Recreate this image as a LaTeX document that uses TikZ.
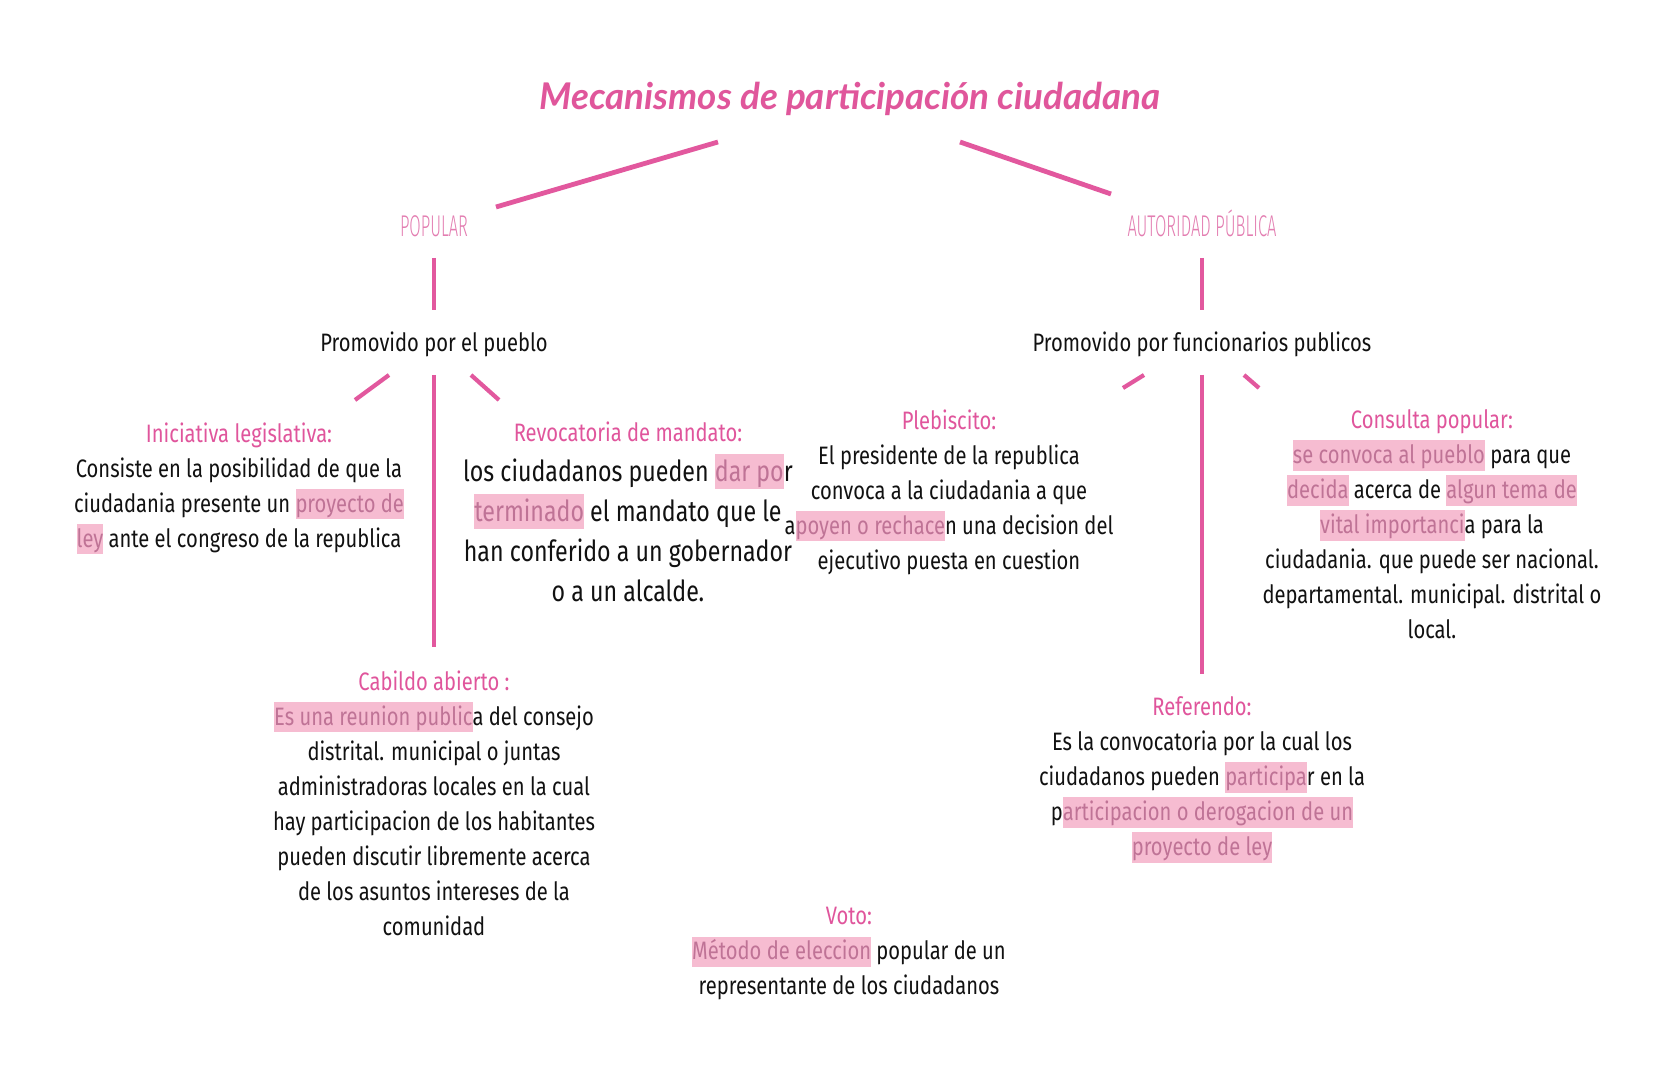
\documentclass[tikz,border=0pt]{standalone}
\usepackage{fontspec}
\setmainfont{Fira Sans}[FakeStretch=0.8]
\newfontfamily\titlefont{Lato}
\newfontfamily\capsfont{Fira Sans Light}[FakeStretch=0.55]
\definecolor{linkpink}{HTML}{E2589E}
\definecolor{titlepink}{HTML}{E0569B}
\definecolor{headpink}{HTML}{E0559C}
\definecolor{capspink}{HTML}{E37DB1}
\definecolor{hlpink}{HTML}{F6BCD1}
\definecolor{hltext}{HTML}{BF7396}
\definecolor{bodyblack}{HTML}{111111}
\newsavebox\hlbox
\newcommand\hl[1]{\sbox\hlbox{#1}\rlap{\smash{\textcolor{hlpink}{\rule[-0.55ex]{\wd\hlbox}{2.3ex}}}}\textcolor{hltext}{#1}}
\newcommand\hd[1]{\textcolor{headpink}{#1}}
\begin{document}
\begin{tikzpicture}[x=0.5pt,y=-0.5pt,
  link/.style={draw=linkpink,line width=2.4pt},
  thinlink/.style={draw=linkpink,line width=2.1pt},
  blk/.style={anchor=north,align=center,inner sep=0pt,text=bodyblack,font=\fontsize{12.6}{17.5}\selectfont},
  caps/.style={anchor=base,text=capspink,inner sep=0pt,font=\capsfont\fontsize{15}{17}\selectfont},
  mid/.style={text=bodyblack,inner sep=0pt,font=\fontsize{12.6}{14}\selectfont}]
\useasboundingbox[fill=white] (0,0) rectangle (1672,1080);

% title
\node[text=titlepink,inner sep=0pt,font=\titlefont\bfseries\itshape\fontsize{18.4}{22}\selectfont] (title) at (850,99) {Mecanismos de participación ciudadana};

% level 1
\node[caps] (pop) at (434,237) {POPULAR};
\node[caps] (aut) at (1202,237) {AUTORIDAD PÚBLICA};
\coordinate (tl1) at (718,142); \coordinate (tl2) at (496,207);
\coordinate (tr1) at (960,142); \coordinate (tr2) at (1111,194);
\draw[link] (tl1) -- (tl2);
\draw[link] (tr1) -- (tr2);

% level 2
\node[mid] (ppu) at (434,344) {Promovido por el pueblo};
\node[mid] (pfu) at (1202,344) {Promovido por funcionarios publicos};
\coordinate (pv1) at (434,258); \coordinate (pv2) at (434,310);
\coordinate (av1) at (1202,258); \coordinate (av2) at (1202,310);
\draw[thinlink] (pv1) -- (pv2);
\draw[thinlink] (av1) -- (av2);

% branches left
\coordinate (la1) at (389,375); \coordinate (la2) at (355,400);
\coordinate (lb1) at (434,375); \coordinate (lb2) at (434,647);
\coordinate (lc1) at (471,375); \coordinate (lc2) at (499,400);
\draw[thinlink] (la1) -- (la2);
\draw[thinlink] (lb1) -- (lb2);
\draw[thinlink] (lc1) -- (lc2);
% branches right
\coordinate (ra1) at (1144,375); \coordinate (ra2) at (1123,388);
\coordinate (rb1) at (1202,375); \coordinate (rb2) at (1202,674);
\coordinate (rc1) at (1244,375); \coordinate (rc2) at (1259,388);
\draw[thinlink] (ra1) -- (ra2);
\draw[thinlink] (rb1) -- (rb2);
\draw[thinlink] (rc1) -- (rc2);

% blocks
\node[blk] (ini) at (239,422) {\hd{Iniciativa legislativa:}\\
Consiste en la posibilidad de que la\\
ciudadania presente un \hl{proyecto de}\\
\hl{ley} ante el congreso de la republica};

\node[blk,font=\fontsize{14.5}{20}\selectfont] (rev) at (628,421) {\hd{\fontsize{12.6}{20}\selectfont Revocatoria de mandato:}\\
los ciudadanos pueden \hl{dar po}r\\
\hl{terminado} el mandato que le\\
han conferido a un gobernador\\
o a un alcalde.};

\node[blk] (ple) at (949,409) {\hd{Plebiscito:}\\
El presidente de la republica\\
convoca a la ciudadania a que\\
a\hl{poyen o rechace}n una decision del\\
ejecutivo puesta en cuestion};

\node[blk] (con) at (1432,409) {\hd{Consulta popular:}\\
\hl{se convoca al pueblo} para que\\
\hl{decida} acerca de \hl{algun tema de}\\
\hl{vital importanci}a para la\\
ciudadania. que puede ser nacional.\\
departamental. municipal. distrital o\\
local.};

\node[blk] (cab) at (434,670) {\hd{Cabildo abierto :}\\
\hl{Es una reunion public}a del consejo\\
distrital. municipal o juntas\\
administradoras locales en la cual\\
hay participacion de los habitantes\\
pueden discutir libremente acerca\\
de los asuntos intereses de la\\
comunidad};

\node[blk] (ref) at (1202,696) {\hd{Referendo:}\\
Es la convocatoria por la cual los\\
ciudadanos pueden \hl{participa}r en la\\
p\hl{articipacion o derogacion de un}\\
\hl{proyecto de ley}};

\node[blk] (vot) at (849,907) {\hd{Voto:}\\
\hl{Método de eleccion} popular de un\\
representante de los ciudadanos};
\end{tikzpicture}
\end{document}
